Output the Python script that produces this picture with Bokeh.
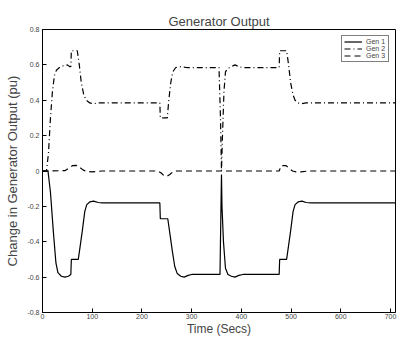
from bokeh.plotting import figure
from bokeh.models import Range1d, FixedTicker, Legend, LegendItem
from bokeh.embed import file_html
from bokeh.resources import INLINE

# ---- data ----
gen1_t = [0, 11, 16, 22, 27, 31, 38, 45, 52, 57, 58, 72, 75, 80, 85, 89, 95, 103, 112, 120,
          236, 237, 252, 256, 261, 266, 271, 278, 285, 293, 300, 357, 359, 360, 361, 364, 368,
          373, 380, 387, 395, 403, 476, 477, 491, 494, 499, 504, 508, 514, 522, 530, 540, 710]
gen1_v = [0, 0, -0.12, -0.35, -0.52, -0.575, -0.595, -0.6, -0.595, -0.585, -0.5, -0.5, -0.44,
          -0.34, -0.23, -0.19, -0.175, -0.17, -0.178, -0.18,
          -0.18, -0.27, -0.27, -0.35, -0.45, -0.54, -0.58, -0.595, -0.6, -0.59, -0.585, -0.585,
          -0.2, -0.02, -0.2, -0.4, -0.55,
          -0.585, -0.595, -0.6, -0.59, -0.585, -0.585, -0.5, -0.5, -0.44, -0.34, -0.23, -0.19,
          -0.175, -0.17, -0.178, -0.18, -0.18]

gen2_t = [0, 8, 12, 16, 20, 24, 28, 34, 42, 50, 55, 57, 58, 70, 74, 78, 83, 88, 95, 102, 112,
          236, 237, 251, 254, 258, 262, 268, 275, 290, 355, 358, 360, 362, 365, 368, 373, 380,
          387, 395, 403, 476, 477, 491, 495, 499, 504, 508, 514, 520, 530, 710]
gen2_v = [0, 0, 0.1, 0.3, 0.45, 0.54, 0.57, 0.585, 0.595, 0.6, 0.59, 0.59, 0.68, 0.68, 0.6,
          0.5, 0.43, 0.4, 0.385, 0.38, 0.385,
          0.385, 0.3, 0.3, 0.4, 0.5, 0.56, 0.585, 0.59, 0.585, 0.585, 0.3, 0.0, 0.2, 0.45, 0.56,
          0.58, 0.59, 0.6, 0.59, 0.585, 0.585, 0.68, 0.68, 0.6, 0.5, 0.43, 0.4, 0.385, 0.38,
          0.385, 0.385]

gen3_t = [0, 45, 55, 60, 68, 75, 82, 90, 100, 120, 232, 238, 244, 250, 256, 262, 270, 476,
          480, 490, 496, 503, 510, 520, 535, 710]
gen3_v = [0, 0.002, 0.02, 0.03, 0.032, 0.02, 0.005, -0.003, -0.005, 0, 0, -0.01, -0.025,
          -0.03, -0.02, -0.005, 0, 0, 0.03, 0.03, 0.015, 0.0, -0.005, -0.005, 0, 0]

x_ticks = [0, 100, 200, 300, 400, 500, 600, 700]
y_ticks = [-0.8, -0.6, -0.4, -0.2, 0, 0.2, 0.4, 0.6, 0.8]
y_tick_labels = ["-0.8", "-0.6", "-0.4", "-0.2", "0", "0.2", "0.4", "0.6", "0.8"]

FONT = "Liberation Sans"

p = figure(width=397, height=337, output_backend="svg", toolbar_location=None,
           x_range=Range1d(0, 710), y_range=Range1d(-0.8, 0.8),
           min_border_left=42, min_border_right=2, min_border_top=29, min_border_bottom=24,
           title="Generator Output")
p.frame_width = 353
p.frame_height = 283
p.title.align = "center"
p.title.text_font = FONT
p.title.text_font_size = "13px"
p.title.text_font_style = "normal"
p.title.offset = 0
p.title.standoff = 2
p.background_fill_color = "white"
p.border_fill_color = "white"
p.outline_line_color = "black"
p.outline_line_width = 1
p.grid.visible = False

r1 = p.line(gen1_t, gen1_v, line_color="black", line_width=1.2)
r2 = p.line(gen2_t, gen2_v, line_color="black", line_width=1.2, line_dash="6 3 1 3")
r3 = p.line(gen3_t, gen3_v, line_color="black", line_width=1.2, line_dash="6 4")

for ax in (p.xaxis[0], p.yaxis[0]):
    ax.major_tick_in = 4
    ax.major_tick_out = 0
    ax.minor_tick_in = 0
    ax.minor_tick_out = 0
    ax.axis_line_color = "black"
    ax.major_label_text_font = FONT
    ax.major_label_text_font_size = "7px"
    ax.axis_label_text_font = FONT
    ax.axis_label_text_font_size = "13px"
    ax.axis_label_text_font_style = "normal"
    ax.major_label_standoff = 3

p.xaxis[0].ticker = FixedTicker(ticks=x_ticks)
p.yaxis[0].ticker = FixedTicker(ticks=y_ticks)
p.yaxis[0].major_label_overrides = {v: s for v, s in zip(y_ticks, y_tick_labels)}
p.xaxis[0].axis_label = "Time (Secs)"
p.yaxis[0].axis_label = "Change in Generator Output (pu)"
p.xaxis[0].major_label_standoff = 1
p.xaxis[0].axis_label_standoff = 0
p.xaxis[0].axis_label_text_font_size = "12px"
p.yaxis[0].axis_label_standoff = 4

legend = Legend(items=[LegendItem(label="Gen 1", renderers=[r1]),
                       LegendItem(label="Gen 2", renderers=[r2]),
                       LegendItem(label="Gen 3", renderers=[r3])],
                location="top_right")
legend.label_text_font = FONT
legend.label_text_font_size = "7px"
legend.label_height = 7
legend.glyph_height = 7
legend.glyph_width = 18
legend.spacing = 0
legend.padding = 2
legend.margin = 6
legend.label_standoff = 4
legend.border_line_color = "black"
legend.border_line_width = 1
legend.background_fill_alpha = 1
p.add_layout(legend)

open("out.html", "w").write(file_html(p, INLINE))
